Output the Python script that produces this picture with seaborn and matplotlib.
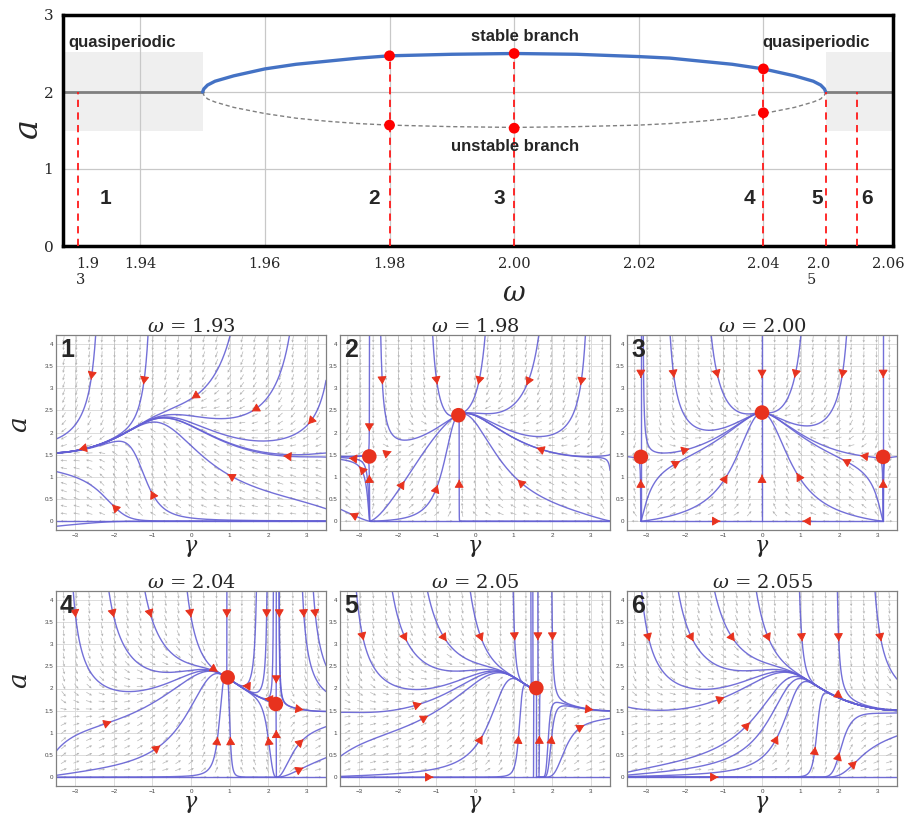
import math
import numpy as np
import matplotlib
matplotlib.use('Agg')
import matplotlib.pyplot as plt
from matplotlib.patches import FancyArrowPatch
import seaborn as sns

# ---------------- top panel: branches of the locked state ----------------
omega_branch = [1.9500, 1.9502, 1.9508, 1.9520, 1.9550, 1.9600, 1.9650, 1.9700, 1.9750, 1.9800, 1.9900,
                2.0000, 2.0100, 2.0200, 2.0250, 2.0300, 2.0350, 2.0400, 2.0450, 2.0480, 2.0492, 2.0498, 2.0500]
a_stable = [2.00, 2.04, 2.09, 2.14, 2.21, 2.30, 2.36, 2.40, 2.44, 2.47, 2.49,
            2.50, 2.49, 2.46, 2.44, 2.40, 2.36, 2.30, 2.21, 2.14, 2.09, 2.04, 2.00]
a_unstable = [2.00, 1.96, 1.91, 1.87, 1.80, 1.72, 1.66, 1.62, 1.59, 1.57, 1.55,
              1.54, 1.55, 1.57, 1.59, 1.62, 1.66, 1.72, 1.80, 1.87, 1.91, 1.96, 2.00]
quasi_left = [1.9276, 1.9500]
quasi_right = [2.0500, 2.0608]
quasi_a = [2.0, 2.0]
quasi_band = [1.50, 2.52]

omega_marked = [1.93, 1.98, 2.00, 2.04, 2.05, 2.055]
a_marked = [2.00, 2.47, 2.50, 2.30, 2.00, 2.00]
dot_omega = [1.98, 2.00, 2.04, 1.98, 2.00, 2.04]
dot_a = [2.47, 2.50, 2.30, 1.57, 1.53, 1.73]

# ---------------- phase portraits ----------------
panel_titles = ['1.93', '1.98', '2.00', '2.04', '2.05', '2.055']
omegas = [1.93, 1.98, 2.00, 2.04, 2.05, 2.055]
fixed_g = [[], [-0.43, -2.74], [0.0, -3.14, 3.14], [0.95, 2.20], [1.59], []]
fixed_a = [[], [2.39, 1.46], [2.45, 1.45, 1.45], [2.25, 1.65], [2.01], []]

# model: locking band 2.00 +/- 0.05, set-point a = 1.95 + 0.5 cos(gamma)
W0, LOCK = 2.0, 0.05
A_MEAN, A_SWING = 1.95, 0.5
RELAX = 0.045

# seeds: trajectory + red arrow
seeds_1 = [(-2.59, 3.20), (-1.23, 3.09), (0.02, 2.77), (1.58, 2.48), (3.04, 2.19), (2.40, 1.47),
           (0.95, 1.06), (-1.04, 0.68), (-2.04, 0.37)]
seeds_2 = [(-2.74, 2.03), (-2.74, 1.04), (-2.40, 3.09), (-0.98, 3.09), (-3.26, 1.42), (-3.00, 1.23),
           (-3.24, 0.17), (-1.83, 0.90), (-0.97, 0.81), (0.085, 3.09), (1.34, 3.07), (2.74, 3.07),
           (1.60, 1.65), (1.11, 0.93), (-0.41, 0.93)]
seeds_3 = [(-math.pi, 3.24), (-2.28, 3.24), (-1.14, 3.24), (0.0, 3.24), (0.845, 3.24), (2.07, 3.24),
           (math.pi, 3.24), (-1.89, 1.63), (-2.13, 1.35), (-0.90, 1.04), (0.0, 1.04), (0.90, 1.08),
           (2.09, 1.39), (2.55, 1.48), (-math.pi, 0.93), (math.pi, 0.93), (-1.09, 0.0), (1.06, 0.0)]
seeds_4 = [(-2.99, 3.61), (-2.00, 3.61), (-1.03, 3.61), (0.00, 3.61), (0.93, 3.61), (1.96, 3.61),
           (2.29, 3.61), (2.93, 3.61), (3.23, 3.61), (1.34, 2.06), (1.92, 1.77), (2.21, 2.12),
           (2.21, 1.06), (2.91, 1.52), (2.91, 0.85), (2.91, 0.21), (-2.07, 1.25), (-0.80, 0.71),
           (0.69, 0.90), (1.02, 0.90), (2.00, 0.90)]
seeds_5 = [(-2.89, 3.09), (-1.77, 3.07), (-0.74, 3.07), (-1.39, 1.66), (-1.22, 1.38), (-1.09, 0.0),
           (0.19, 3.07), (1.03, 3.09), (1.63, 3.09), (2.01, 3.09), (0.19, 0.93), (1.13, 0.93),
           (1.67, 0.93), (1.99, 0.93), (3.06, 1.52), (2.83, 1.17)]
seeds_6 = [(-2.92, 3.07), (-1.78, 3.07), (-0.71, 3.07), (0.20, 3.07), (1.04, 3.07), (1.99, 3.07),
           (3.09, 3.07), (-0.98, 1.80), (-0.32, 1.23), (0.41, 0.93), (1.38, 0.68), (2.01, 0.55),
           (2.45, 0.36), (-1.14, 0.0)]
# extra trajectories without arrow
lines_1 = [(1.0, 0.0), (-3.2, -0.09), (3.4, 1.53)]
lines_2 = [(-1.5, 0.0), (2.0, 0.0), (3.4, 1.48)]
lines_3 = [(-3.35, 1.44), (3.35, 1.44)]
lines_4 = [(-1.5, 0.0), (1.5, 0.0), (3.0, 0.0)]
lines_5 = [(1.50, 3.5), (1.57, 0.5), (1.52, 1.0), (1.45, 3.5)]
lines_6 = [(-3.3, 0.06)]
# arrow heads only
heads_1 = [(-2.90, 1.62)]
heads_2 = [(-2.17, 1.57)]
heads_3 = []
heads_4 = [(0.69, 2.38)]
heads_5 = []
heads_6 = [(2.08, 1.79)]

seeds = [seeds_1, seeds_2, seeds_3, seeds_4, seeds_5, seeds_6]
lines = [lines_1, lines_2, lines_3, lines_4, lines_5, lines_6]
heads = [heads_1, heads_2, heads_3, heads_4, heads_5, heads_6]

GX = (-3.5, 3.5)
GY = (-0.2, 4.2)
PX, PY = 38.6, 43.9   # pixels per unit in a portrait
RED = '#e8321e'
LINE = '#6460d4'


def flow(g, a, w):
    return (w - W0) - LOCK * math.sin(g), RELAX * a * (A_MEAN + A_SWING * math.cos(g) - a)


def unit(g, a, w, sgn):
    u, v = flow(g, a, w)
    u, v = sgn * u * PX, sgn * v * PY
    n = math.hypot(u, v)
    if n < 1e-13:
        return None
    return u / n, v / n


def trace(g, a, w, sgn, h=0.5, nmax=3000):
    gs, as_ = [g], [a]
    prev = None
    for _ in range(nmax):
        d1 = unit(g, a, w, sgn)
        if d1 is None:
            break
        d2 = unit(g + 0.5 * h * d1[0] / PX, a + 0.5 * h * d1[1] / PY, w, sgn)
        if d2 is None or d1[0] * d2[0] + d1[1] * d2[1] < 0:
            break
        if prev is not None and prev[0] * d2[0] + prev[1] * d2[1] < 0:
            break
        g += h * d2[0] / PX
        a += h * d2[1] / PY
        gs.append(g)
        as_.append(a)
        prev = d2
        if not (GX[0] <= g <= GX[1] and GY[0] <= a <= GY[1]):
            break
    return gs, as_


def trajectory(g, a, w):
    bg, ba = trace(g, a, w, -1)
    fg, fa = trace(g, a, w, 1)
    return bg[::-1] + fg[1:], ba[::-1] + fa[1:]


def add_arrow(ax, g, a, w):
    d = unit(g, a, w, 1)
    if d is None:
        return
    tail = (g - 3 * d[0] / PX, a - 3 * d[1] / PY)
    head = (g + 3 * d[0] / PX, a + 3 * d[1] / PY)
    ax.add_patch(FancyArrowPatch(tail, head, arrowstyle='-|>,head_length=0.6,head_width=0.35',
                                 mutation_scale=8, color=RED, lw=0.7, zorder=4))


sns.set_style('white')
plt.rcParams['font.family'] = ['Liberation Sans', 'DejaVu Sans']
plt.rcParams['mathtext.fontset'] = 'dejavuserif'

fig = plt.figure(figsize=(9.05, 8.17), dpi=100)
W, H = 905, 817

# ---------------- top panel ----------------
ax = fig.add_axes([63 / W, 1 - 246 / H, 830 / W, 231 / H])
ax.fill_between(quasi_left, quasi_band[0], quasi_band[1], color='#efefef', lw=0, zorder=0.2)
ax.fill_between(quasi_right, quasi_band[0], quasi_band[1], color='#efefef', lw=0, zorder=0.2)
sns.lineplot(x=quasi_left, y=quasi_a, ax=ax, color='#7f7f7f', lw=2, sort=False, zorder=2)
sns.lineplot(x=quasi_right, y=quasi_a, ax=ax, color='#7f7f7f', lw=2, sort=False, zorder=2)
sns.lineplot(x=omega_branch, y=a_unstable, ax=ax, color='#808080', lw=1.0,
             linestyle=(0, (3, 2)), sort=False, zorder=2)
sns.lineplot(x=omega_branch, y=a_stable, ax=ax, color='#4472c4', lw=2.4, sort=False, zorder=3)
ax.vlines(omega_marked, 0, a_marked, colors='#ff1a1a', linestyles=(0, (4, 3)), lw=1.3, zorder=3)
sns.scatterplot(x=dot_omega, y=dot_a, ax=ax, color='#ff0000', s=60, edgecolor='none', zorder=5)

ax.set_xlim(1.9276, 2.0608)
ax.set_ylim(0, 3)
ax.set_xticks([1.94, 1.96, 1.98, 2.00, 2.02, 2.04],
              labels=['1.94', '1.96', '1.98', '2.00', '2.02', '2.04'])
ax.set_xticks([1.9315, 2.0488, 2.06], labels=['1.9\n3', '2.0\n5', '2.06'], minor=True)
ax.set_yticks([0, 1, 2, 3])
ax.tick_params(axis='x', which='major', direction='in', length=5, width=2, pad=8, labelsize=10.5)
ax.tick_params(axis='x', which='minor', length=0, pad=8, labelsize=10.5)
ax.tick_params(axis='y', direction='in', length=5, width=2, pad=7, labelsize=11)
for t in ax.get_xticklabels() + ax.get_xticklabels(minor=True) + ax.get_yticklabels():
    t.set_fontfamily('DejaVu Serif')
for t in ax.get_xticklabels(minor=True):
    t.set_multialignment('left')
ax.grid(True, which='major', color='#c8c8c8', lw=0.9)
for s in ax.spines.values():
    s.set_linewidth(2.5)
    s.set_color('black')
ax.set_xlabel(r'$\omega$', fontsize=20)
ax.xaxis.set_label_coords(0.543, -0.15)
ax.set_ylabel(r'$a$', fontsize=24)
ax.yaxis.set_label_coords(-0.022, 0.5)

ax.text(1.9285, 2.64, 'quasiperiodic', fontsize=12, fontweight='bold', ha='left', va='center')
ax.text(2.0398, 2.64, 'quasiperiodic', fontsize=12, fontweight='bold', ha='left', va='center')
ax.text(2.0018, 2.72, 'stable branch', fontsize=12, fontweight='bold', ha='center', va='center')
ax.text(2.0002, 1.29, 'unstable branch', fontsize=12, fontweight='bold', ha='center', va='center')
for lab, x in zip(['1', '2', '3', '4', '5', '6'],
                  [1.9345, 1.9776, 1.9977, 2.0378, 2.0486, 2.0567]):
    ax.text(x, 0.62, lab, fontsize=15, fontweight='bold', ha='center', va='center')

# ---------------- phase portraits ----------------
col_x = [56, 340, 627]
row_y = [335, 591]
qg, qa = np.meshgrid(np.linspace(-3.3, 3.3, 21), np.linspace(0.0, 4.1, 25))
for i, w in enumerate(omegas):
    r, c = divmod(i, 3)
    ax = fig.add_axes([col_x[c] / W, 1 - (row_y[r] + 195) / H, 270 / W, 195 / H])

    # direction field
    u = (w - W0) - LOCK * np.sin(qg)
    v = RELAX * qa * (A_MEAN + A_SWING * np.cos(qg) - qa)
    du, dv = u * PX, v * PY
    n = np.hypot(du, dv)
    n[n == 0] = 1
    ax.quiver(qg, qa, du / n * 6.5 / PX, dv / n * 6.5 / PY, angles='xy', scale_units='xy', scale=1,
              color='#b4b4b4', width=0.0024, headwidth=4, headlength=4, headaxislength=3.5,
              pivot='mid', zorder=1)

    for g0, a0 in seeds[i] + lines[i]:
        tg, ta = trajectory(g0, a0, w)
        ax.plot(tg, ta, color=LINE, lw=1.0, alpha=0.9, zorder=2)
    for g0, a0 in seeds[i] + heads[i]:
        add_arrow(ax, g0, a0, w)
    if fixed_g[i]:
        sns.scatterplot(x=fixed_g[i], y=fixed_a[i], ax=ax, color=RED, s=110, edgecolor='none',
                        zorder=6)

    ax.set_xlim(*GX)
    ax.set_ylim(*GY)
    ax.set_xticks(range(-3, 4))
    ax.set_yticks(np.arange(0, 4.01, 0.5), labels=['0', '0.5', '1', '1.5', '2', '2.5', '3', '3.5', '4'])
    ax.tick_params(labelsize=4.5, labelcolor='#444444', direction='in', length=2, width=0.5,
                   color='#666666', pad=2)
    ax.grid(True, color='#dcdcdc', lw=0.7)
    for s in ax.spines.values():
        s.set_linewidth(0.9)
        s.set_color('#808080')
    ax.set_title(r'$\omega$ = ' + panel_titles[i], fontsize=14, family='DejaVu Serif', pad=2)
    ax.set_xlabel(r'$\gamma$', fontsize=16)
    ax.xaxis.set_label_coords(0.5, -0.042)
    ax.xaxis.label.set_va('top')
    if c == 0:
        ax.set_ylabel(r'$a$', fontsize=19)
        ax.yaxis.set_label_coords(-0.09, 0.54)
    ax.text(0.015, 0.985, str(i + 1), transform=ax.transAxes, fontsize=18, fontweight='bold',
            ha='left', va='top', zorder=7)

fig.savefig('out.png', dpi=100)
